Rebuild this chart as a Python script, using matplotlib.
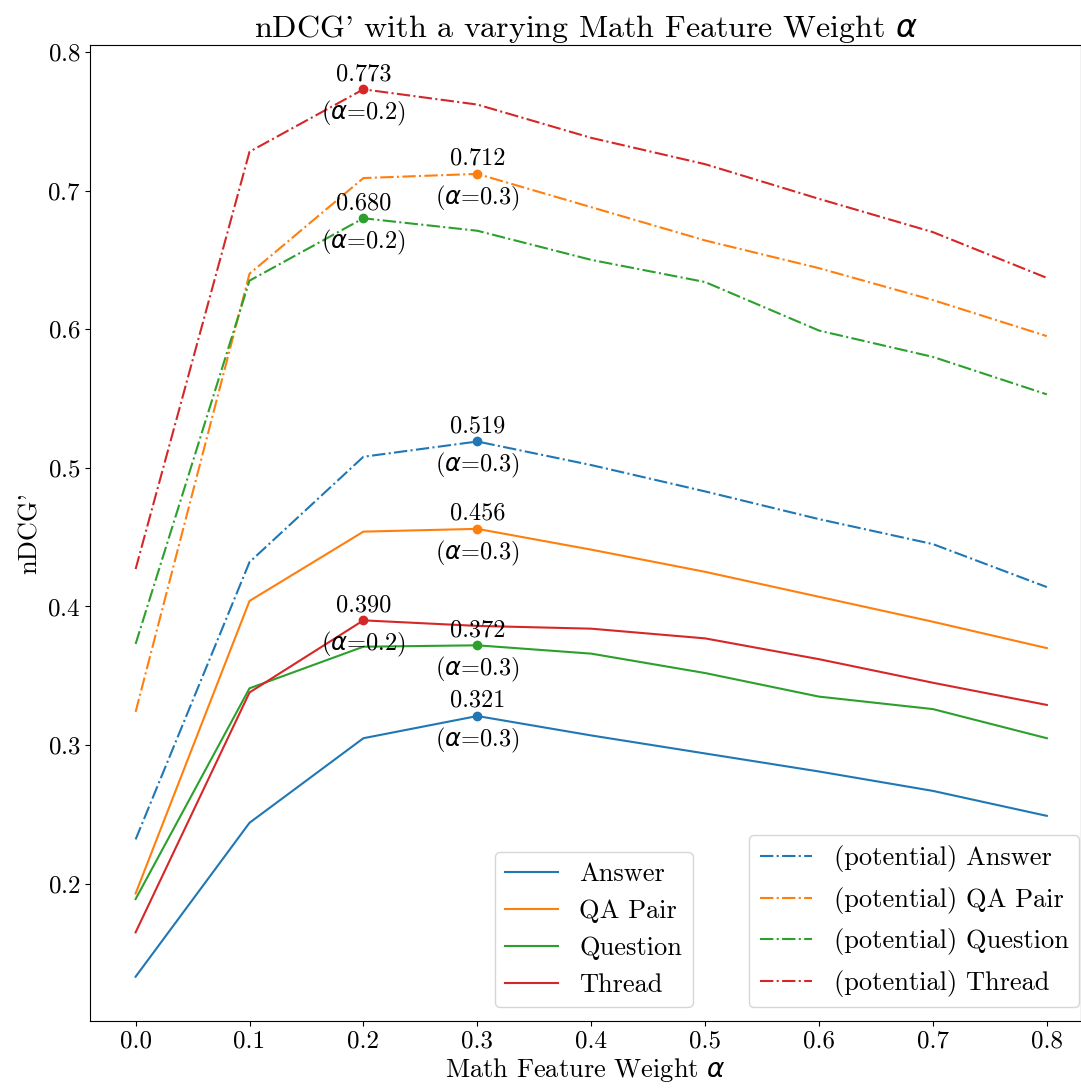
import matplotlib
matplotlib.use("Agg")
import matplotlib.pyplot as plt

plt.rcParams["font.family"] = "serif"
plt.rcParams["font.serif"] = ["cmr10"]
plt.rcParams["mathtext.fontset"] = "dejavusans"
plt.rcParams["axes.formatter.use_mathtext"] = True

alphas = [0.0, 0.1, 0.2, 0.3, 0.4, 0.5, 0.6, 0.7, 0.8]

answer = [0.133, 0.244, 0.305, 0.321, 0.307, 0.294, 0.281, 0.267, 0.249]
qa_pair = [0.193, 0.404, 0.454, 0.456, 0.441, 0.425, 0.407, 0.389, 0.370]
question = [0.189, 0.341, 0.371, 0.372, 0.366, 0.352, 0.335, 0.326, 0.305]
thread = [0.165, 0.338, 0.390, 0.386, 0.384, 0.377, 0.362, 0.345, 0.329]

pot_answer = [0.232, 0.432, 0.508, 0.519, 0.502, 0.483, 0.463, 0.445, 0.414]
pot_qa_pair = [0.324, 0.640, 0.709, 0.712, 0.688, 0.664, 0.644, 0.621, 0.595]
pot_question = [0.373, 0.635, 0.680, 0.671, 0.650, 0.634, 0.599, 0.580, 0.553]
pot_thread = [0.427, 0.728, 0.773, 0.762, 0.738, 0.719, 0.694, 0.670, 0.637]

names = ["Answer", "QA Pair", "Question", "Thread"]
colores = ["#1f77b4", "#ff7f0e", "#2ca02c", "#d62728"]

fig = plt.figure(figsize=(10.81, 10.91), dpi=100)
ax = fig.add_axes([0.0833, 0.0641, 0.9167, 0.8947])

def marcar_max(xs, ys, color):
    i = max(range(len(ys)), key=lambda k: ys[k])
    ax.plot(xs[i], ys[i], "o", color=color, markersize=6)
    ax.annotate(f"{ys[i]:.3f}", (xs[i], ys[i]), xytext=(0, 3),
                textcoords="offset points", ha="center", va="bottom", fontsize=17.5)
    ax.annotate(f"($\\alpha$={xs[i]:.1f})", (xs[i], ys[i]), xytext=(0, -7),
                textcoords="offset points", ha="center", va="top", fontsize=17.5)

solid = []
for nombre, ys, c in zip(names, [answer, qa_pair, question, thread], colores):
    ln, = ax.plot(alphas, ys, "-", color=c, lw=1.5, label=nombre)
    solid.append(ln)
    marcar_max(alphas, ys, c)

dashed = []
for nombre, ys, c in zip(names, [pot_answer, pot_qa_pair, pot_question, pot_thread], colores):
    ln, = ax.plot(alphas, ys, "-.", color=c, lw=1.5, label="(potential) " + nombre)
    dashed.append(ln)
    marcar_max(alphas, ys, c)

ax.set_xlim(-0.04, 0.83)
ax.set_xticks(alphas)
ax.set_xticklabels([f"{a:.1f}" for a in alphas])
ax.tick_params(labelsize=18)
ax.set_xlabel("Math Feature Weight $\\alpha$", fontsize=19, labelpad=2)
ax.set_ylabel("nDCG'", fontsize=19)
ax.set_title("nDCG' with a varying Math Feature Weight $\\alpha$", fontsize=23)

leg1 = ax.legend(handles=solid, loc="lower right", bbox_to_anchor=(0.608, 0.014),
                 borderaxespad=0, fontsize=19, labelspacing=0.5)
ax.add_artist(leg1)
ax.legend(handles=dashed, loc="lower right", bbox_to_anchor=(0.998, 0.014),
          borderaxespad=0, fontsize=19, labelspacing=0.55)

plt.savefig("out.png", dpi=100)
